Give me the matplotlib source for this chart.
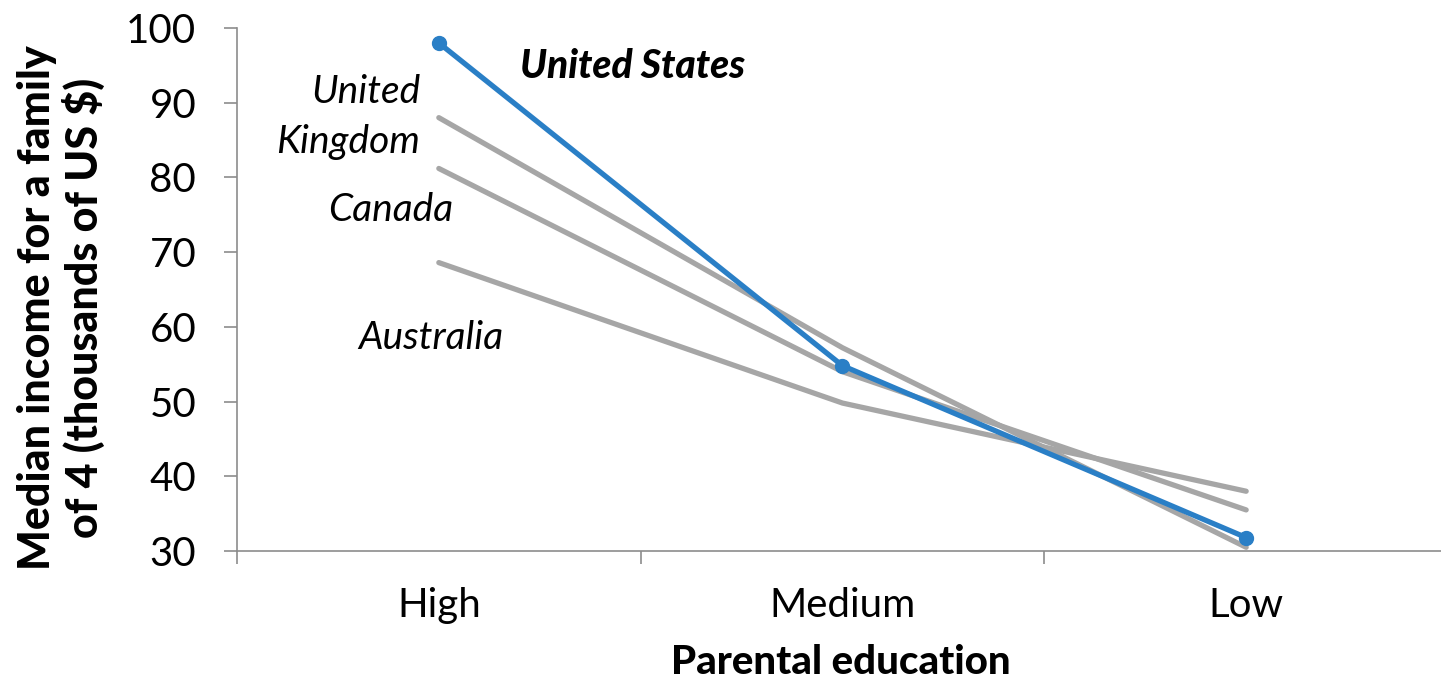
import matplotlib
matplotlib.use("Agg")
import matplotlib.pyplot as plt
from matplotlib.ticker import FixedLocator

plt.rcParams['font.family'] = ['Lato', 'DejaVu Sans']

categories = ["High", "Medium", "Low"]
united_states = [98.0, 54.8, 31.8]
united_kingdom = [88.0, 57.2, 30.5]
canada = [81.2, 54.0, 35.5]
australia = [68.6, 49.8, 38.0]

GRAY = "#A6A6A6"
BLUE = "#2A7FC6"
AXIS = "#8C8C8C"

W, H = 1441, 684
fig = plt.figure(figsize=(W / 100, H / 100), dpi=100)
ax = fig.add_axes([237 / W, 1 - 551 / H, 1211 / W, (551 - 28) / H])

x = list(range(len(categories)))
for series in (australia, canada, united_kingdom):
    ax.plot(x, series, color=GRAY, lw=3.8, solid_capstyle="round", zorder=2)
ax.plot(x, united_states, color=BLUE, lw=3.8, marker="o", markersize=10,
        solid_capstyle="round", zorder=3)

ax.set_xlim(-0.5, 2.5)
ax.set_ylim(30, 100)
ax.set_yticks(range(30, 101, 10))

ax.xaxis.set_major_locator(FixedLocator([-0.5, 0.5, 1.5, 2.5]))
ax.xaxis.set_minor_locator(FixedLocator(x))
ax.set_xticklabels([])
ax.set_xticklabels(categories, minor=True)
ax.tick_params(axis="x", which="major", length=9.4, width=1.2, color=AXIS, direction="out")
ax.tick_params(axis="x", which="minor", length=0, pad=26, labelsize=29)
ax.tick_params(axis="y", length=9.4, width=1.2, color=AXIS, direction="out",
               pad=20, labelsize=29)

for side in ("top", "right"):
    ax.spines[side].set_visible(False)
for side in ("left", "bottom"):
    ax.spines[side].set_color(AXIS)
    ax.spines[side].set_linewidth(1.2)

# axis titles
fig.text(841 / W, 1 - 663 / H, "Parental education", fontsize=29,
         fontweight="black", ha="center", va="center")
fig.text(61 / W, 1 - 308 / H, "Median income for a family\nof 4 (thousands of US $)",
         fontsize=31, fontweight="black", rotation=90, ha="center", va="center",
         multialignment="center", linespacing=1.12)

# series labels
ax.text(0.20, 94.8, "United States", fontsize=28, fontweight="black",
        fontstyle="italic", ha="left", va="center")
ax.text(-0.046, 91.5, "United", fontsize=28, fontstyle="italic", ha="right", va="center")
ax.text(-0.046, 84.8, "Kingdom", fontsize=28, fontstyle="italic", ha="right", va="center")
ax.text(-0.274, 75.6, "Canada", fontsize=28, fontstyle="italic", ha="left", va="center")
ax.text(-0.20, 58.5, "Australia", fontsize=28, fontstyle="italic", ha="left", va="center")

fig.savefig("out.png", dpi=100)
